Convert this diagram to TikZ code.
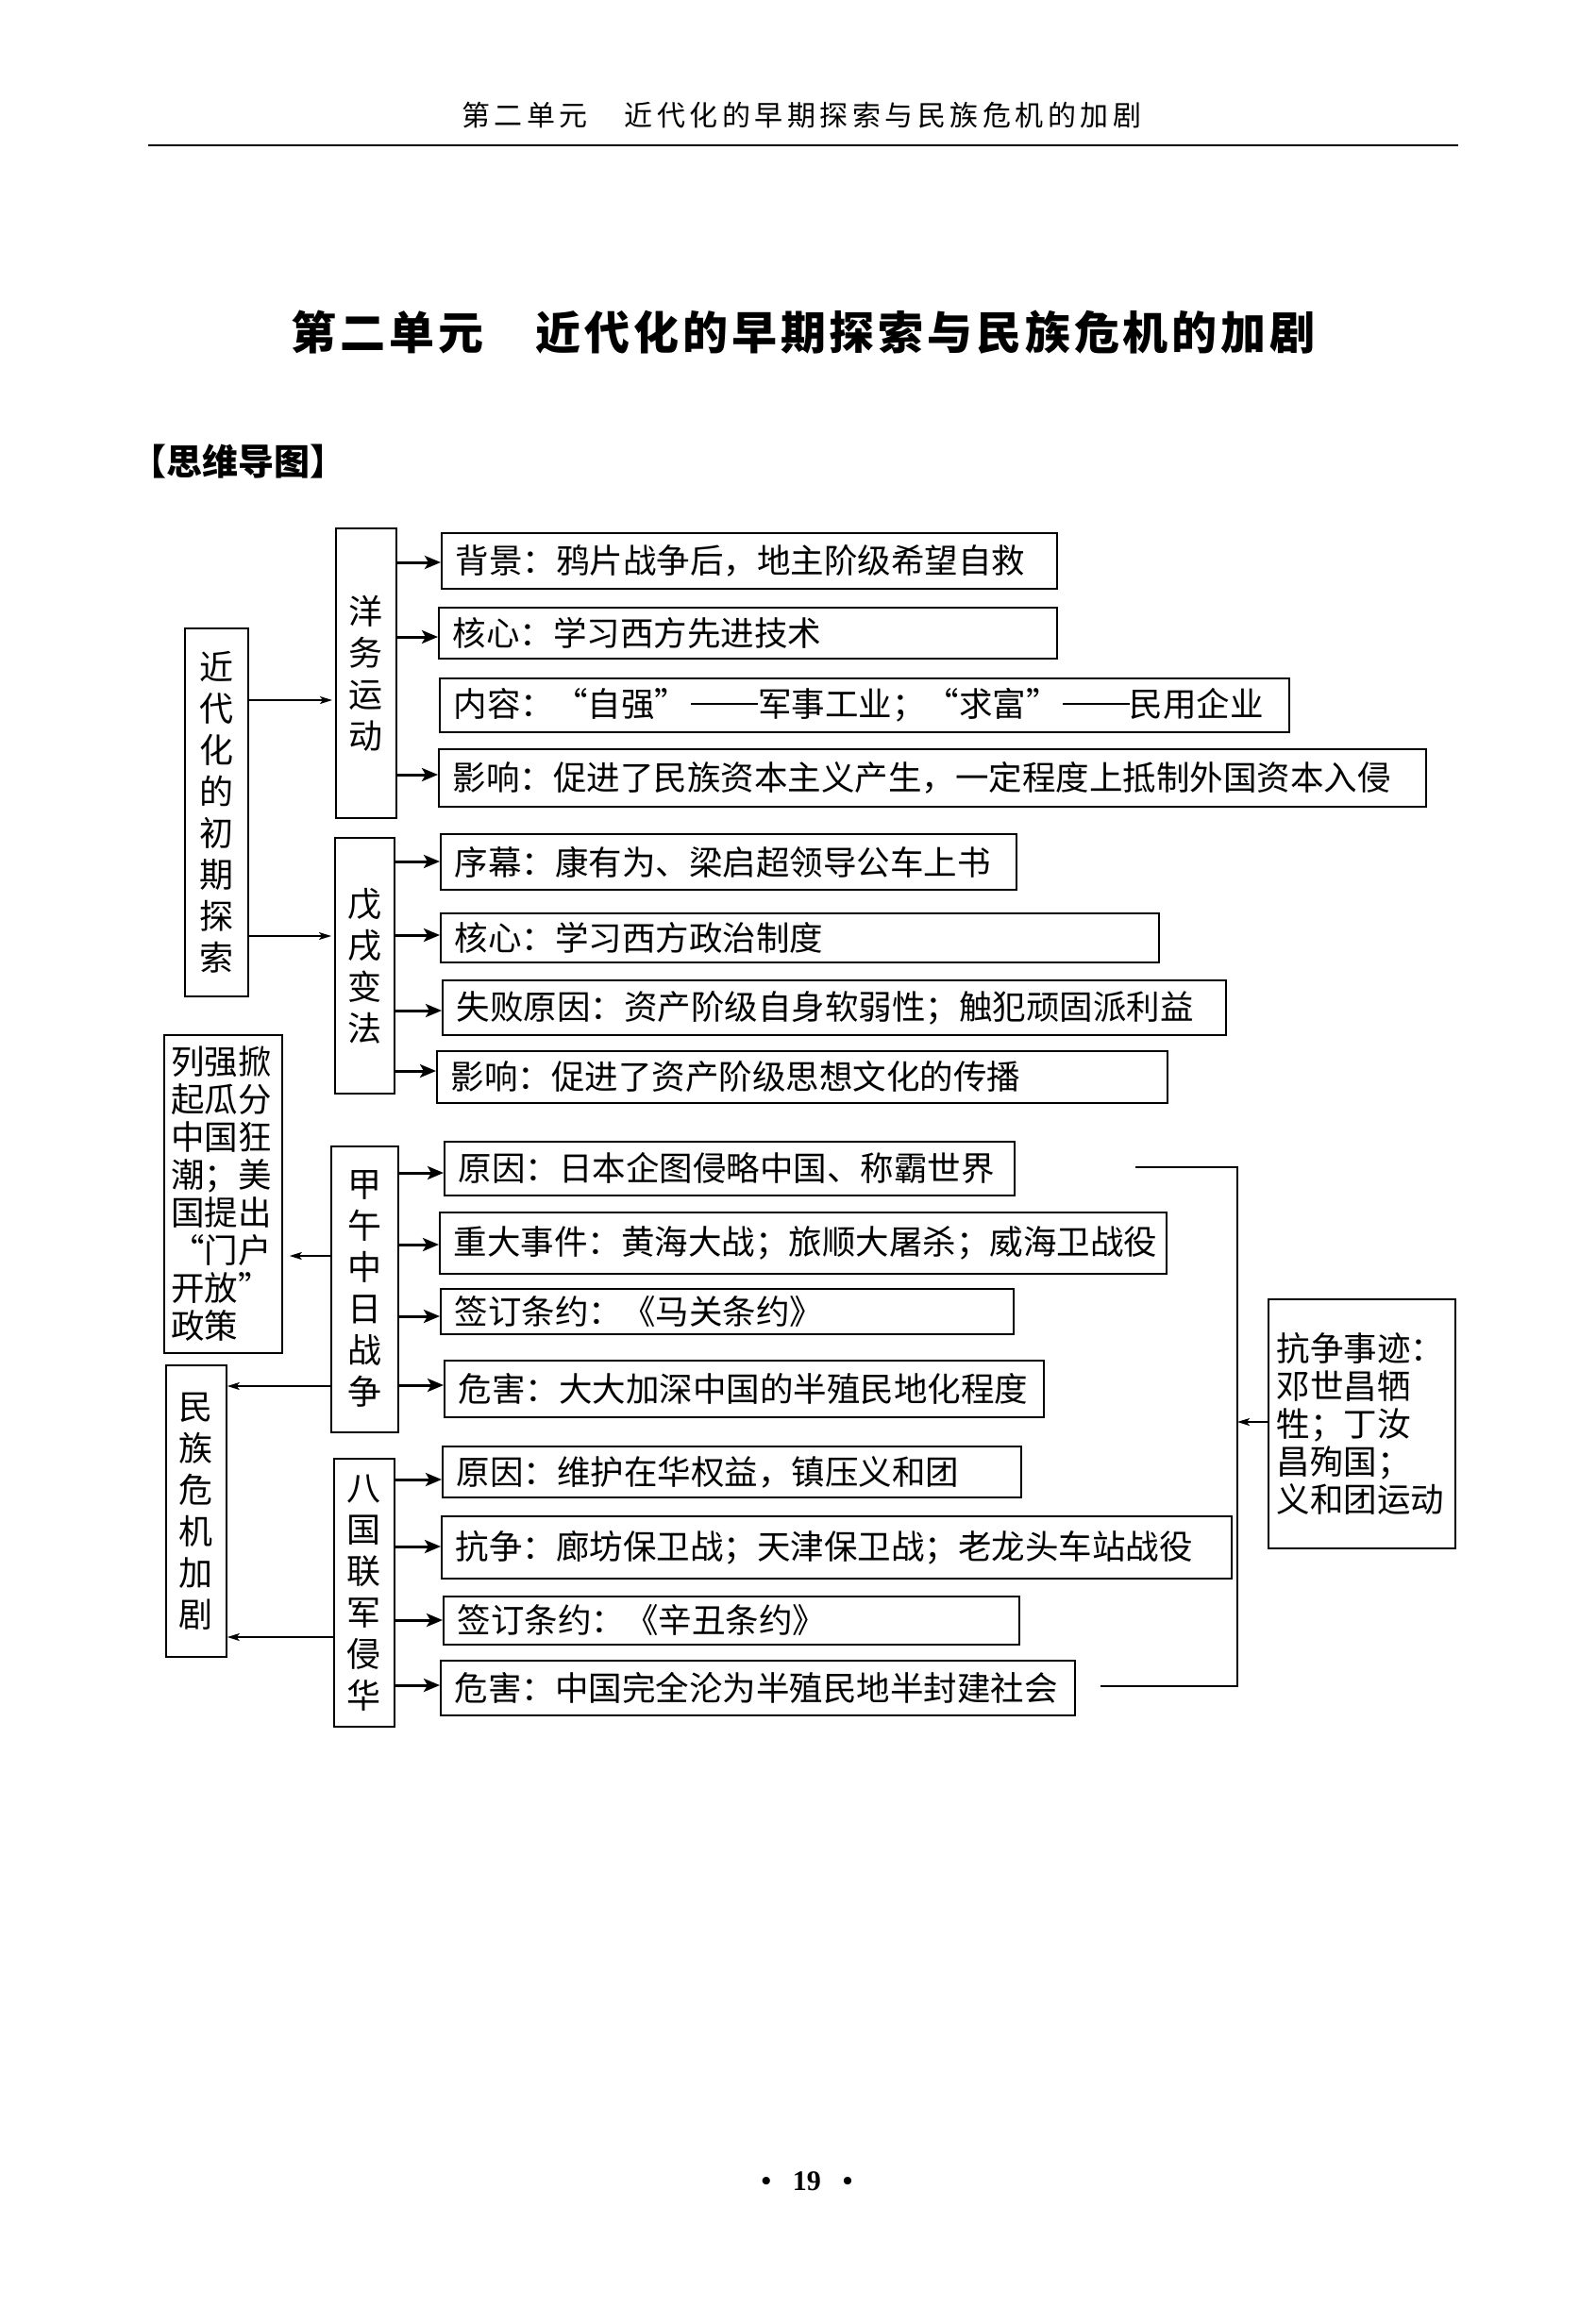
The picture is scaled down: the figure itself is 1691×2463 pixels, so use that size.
\documentclass[tikz,border=0pt]{standalone}
\usepackage{fontspec}
\setmainfont{Liberation Serif}
\newfontfamily\cjk{Noto Sans CJK SC}
\newfontfamily\cjkhead[LetterSpace=15]{Noto Sans CJK SC}
\newfontfamily\cjktitle[LetterSpace=8]{Noto Sans CJK SC}
\newcommand\mydash{\hspace{0.08em}\rule[0.36em]{2.0em}{1.4pt}}
\usetikzlibrary{arrows.meta}
\tikzset{
  box/.style={draw, line width=1.8pt, inner ysep=0pt},
  itembox/.style={box, anchor=north west, inner xsep=15pt, align=left,
    font=\cjk\fontsize{35.5}{40}\selectfont},
  vbox/.style={box, anchor=north west, inner sep=0pt, align=center,
    font=\cjk\fontsize{36}{44}\selectfont},
  multibox/.style={box, anchor=north west, align=left,
    font=\cjk\fontsize{35.5}{40}\selectfont},
  iarrow/.style={line width=3pt, -{Stealth[length=17pt,width=14pt,inset=4pt]}},
  tarrow/.style={line width=1.6pt, -{Stealth[length=13pt,width=8pt,inset=3pt]}},
  thinline/.style={line width=1.6pt},
}
\begin{document}
\begin{tikzpicture}[x=1pt,y=-1pt]
\useasboundingbox (0,0) rectangle (1691,2463);
\fill[white] (0,0) rectangle (1691,2463);

% header
\node (head) at (849,122) {\cjkhead\fontsize{30}{36}\selectfont 第二单元　近代化的早期探索与民族危机的加剧};
\coordinate (hl) at (157,154);
\coordinate (hr) at (1545,154);
\draw[line width=2pt] (hl) -- (hr);

% title
\node (title) at (851,352) {\cjktitle\bfseries\fontsize{48}{56}\selectfont 第二单元　近代化的早期探索与民族危机的加剧};
\node[anchor=west, inner sep=0pt] (mind) at (138,489) {\cjk\bfseries\fontsize{38}{44}\selectfont 【思维导图】};

% left column boxes
\node[vbox, minimum width=67pt, minimum height=390pt] (jd) at (195,665) {近\\代\\化\\的\\初\\期\\探\\索};
\node[multibox, minimum width=125pt, minimum height=337pt, text width=110pt, inner xsep=7.5pt] (lq) at (173,1096)
  {列强掀\\起瓜分\\中国狂\\潮；美\\国提出\\“门户\\开放”\\政策};
\node[vbox, minimum width=64pt, minimum height=309pt] (mz) at (175,1446) {民\\族\\危\\机\\加\\剧};

% middle column boxes
\node[vbox, minimum width=64pt, minimum height=307pt] (yw) at (355,559) {洋\\务\\运\\动};
\node[vbox, minimum width=63pt, minimum height=271pt] (wx) at (354,887) {戊\\戌\\变\\法};
\node[vbox, minimum width=71pt, minimum height=303pt] (jw) at (350,1214) {甲\\午\\中\\日\\战\\争};
\node[vbox, minimum width=64pt, minimum height=284pt] (bg) at (353,1545) {八\\国\\联\\军\\侵\\华};

% items: 洋务运动
\node[itembox, minimum height=59pt, text width=622pt] (yw1) at (467,564) {\mbox{背景：鸦片战争后，地主阶级希望自救}};
\node[itembox, minimum height=54pt, text width=625pt] (yw2) at (464,643) {\mbox{核心：学习西方先进技术}};
\node[itembox, minimum height=57pt, text width=870pt] (yw3) at (465,718) {\mbox{内容：“自强”\mydash 军事工业；“求富”\mydash 民用企业}};
\node[itembox, minimum height=61pt, text width=1016pt] (yw4) at (464,793) {\mbox{影响：促进了民族资本主义产生，一定程度上抵制外国资本入侵}};

% items: 戊戌变法
\node[itembox, minimum height=59pt, text width=580pt] (wx1) at (466,883) {\mbox{序幕：康有为、梁启超领导公车上书}};
\node[itembox, minimum height=52pt, text width=731pt] (wx2) at (466,967) {\mbox{核心：学习西方政治制度}};
\node[itembox, minimum height=58pt, text width=800pt] (wx3) at (468,1038) {\mbox{失败原因：资产阶级自身软弱性；触犯顽固派利益}};
\node[itembox, minimum height=55pt, text width=744pt] (wx4) at (462,1113) {\mbox{影响：促进了资产阶级思想文化的传播}};

% items: 甲午中日战争
\node[itembox, minimum height=57pt, text width=574pt] (jw1) at (470,1209) {\mbox{原因：日本企图侵略中国、称霸世界}};
\node[itembox, minimum height=65pt, text width=740pt] (jw2) at (465,1284) {\mbox{重大事件：黄海大战；旅顺大屠杀；威海卫战役}};
\node[itembox, minimum height=48pt, text width=577pt] (jw3) at (466,1365) {\mbox{签订条约：《马关条约》}};
\node[itembox, minimum height=60pt, text width=605pt] (jw4) at (470,1441) {\mbox{危害：大大加深中国的半殖民地化程度}};

% items: 八国联军侵华
\node[itembox, minimum height=54pt, text width=583pt] (bg1) at (468,1532) {\mbox{原因：维护在华权益，镇压义和团}};
\node[itembox, minimum height=66pt, text width=807pt] (bg2) at (467,1606) {\mbox{抗争：廊坊保卫战；天津保卫战；老龙头车站战役}};
\node[itembox, minimum height=51pt, text width=580pt] (bg3) at (469,1691) {\mbox{签订条约：《辛丑条约》}};
\node[itembox, minimum height=58pt, text width=642pt] (bg4) at (466,1759) {\mbox{危害：中国完全沦为半殖民地半封建社会}};

% right box
\node[multibox, minimum width=198pt, minimum height=264pt, text width=180pt, inner xsep=9pt] (kz) at (1343,1376)
  {抗争事迹：\\邓世昌牺\\牲；丁汝\\昌殉国；\\义和团运动};

% thin arrows to middle column
\draw[tarrow, shorten >=3pt] (jd.east |- 0,742) -- (yw.west |- 0,742);
\draw[tarrow, shorten >=3pt] (jd.east |- 0,992) -- (wx.west |- 0,992);
\draw[tarrow, shorten >=7pt] (jw.west |- 0,1331) -- (lq.east |- 0,1331);
\draw[tarrow] (jw.west |- 0,1469) -- (mz.east |- 0,1469);
\draw[tarrow] (bg.west |- 0,1735) -- (mz.east |- 0,1735);

% item arrows
\draw[iarrow] (yw.east |- 0,596) -- (yw1.west |- 0,596);
\draw[iarrow] (yw.east |- 0,675) -- (yw2.west |- 0,675);
\draw[iarrow] (yw.east |- 0,821) -- (yw4.west |- 0,821);
\draw[iarrow] (wx.east |- 0,913) -- (wx1.west |- 0,913);
\draw[iarrow] (wx.east |- 0,991) -- (wx2.west |- 0,991);
\draw[iarrow] (wx.east |- 0,1071) -- (wx3.west |- 0,1071);
\draw[iarrow] (wx.east |- 0,1135) -- (wx4.west |- 0,1135);
\draw[iarrow] (jw.east |- 0,1243) -- (jw1.west |- 0,1243);
\draw[iarrow] (jw.east |- 0,1319) -- (jw2.west |- 0,1319);
\draw[iarrow] (jw.east |- 0,1395) -- (jw3.west |- 0,1395);
\draw[iarrow] (jw.east |- 0,1468) -- (jw4.west |- 0,1468);
\draw[iarrow] (bg.east |- 0,1568) -- (bg1.west |- 0,1568);
\draw[iarrow] (bg.east |- 0,1639) -- (bg2.west |- 0,1639);
\draw[iarrow] (bg.east |- 0,1717) -- (bg3.west |- 0,1717);
\draw[iarrow] (bg.east |- 0,1786) -- (bg4.west |- 0,1786);

% bracket on the right
\coordinate (bt) at (1203,1237);
\coordinate (btr) at (1311,1237);
\coordinate (bbr) at (1311,1787);
\coordinate (bb) at (1166,1787);
\coordinate (bm) at (1311,1507);
\draw[thinline] (bt) -- (btr) -- (bbr) -- (bb);
\draw[tarrow] (kz.west |- bm) -- (bm);

% page number
\node (pg) at (855,2312) {\bfseries\fontsize{30}{36}\selectfont •\hspace{23pt}19\hspace{23pt}•};
\end{tikzpicture}
\end{document}
